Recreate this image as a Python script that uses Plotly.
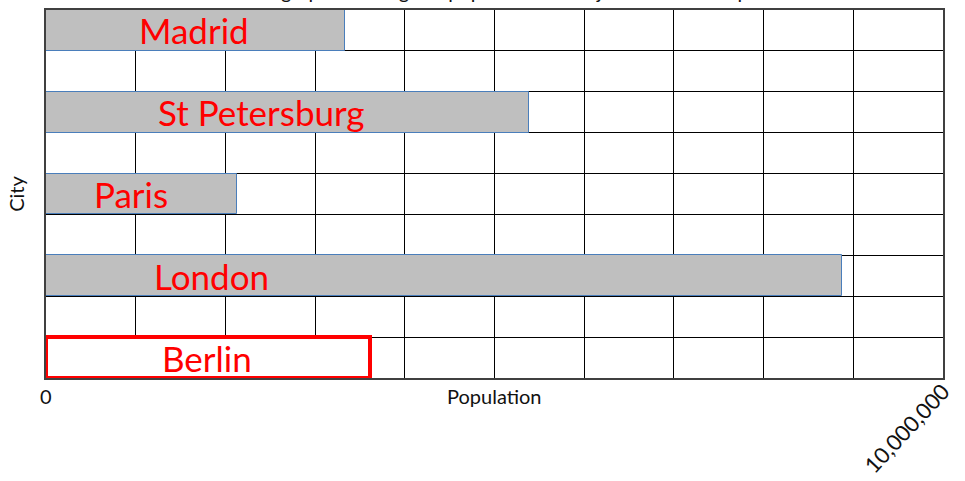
import plotly.graph_objects as go

cities = ["Madrid", "St Petersburg", "Paris", "London", "Berlin"]
population = [3330000, 5380000, 2130000, 8870000, 3610000]
label_x = [1650000, 2400000, 950000, 1850000, 1800000]
tick_values = [0, 10000000]
tick_labels = ["0", "10,000,000"]
title_text = "A bar graph showing the population of major cities in Europe"

n = len(cities)
rows = [2 * (n - 1 - i) for i in range(n)]
fills = ["#bfbfbf"] * (n - 1) + ["white"]
lines = ["#4a7ebb"] * (n - 1) + ["#ff0000"]
widths = [1] * (n - 1) + [4]
FONT = "Lato"

fig = go.Figure()
fig.add_trace(go.Bar(
    x=population, y=rows, orientation="h", width=1,
    marker=dict(color=fills, line=dict(color=lines, width=widths)),
    hoverinfo="skip", showlegend=False,
))

for c, lx, r in zip(cities, label_x, rows):
    fig.add_annotation(x=lx, y=r, text=c, showarrow=False,
                       font=dict(family=FONT, size=35, color="#ff0000"),
                       xanchor="center", yanchor="middle")

fig.add_annotation(xref="paper", yref="paper", x=0.5, y=-0.012, text="Population",
                   showarrow=False, yanchor="top",
                   font=dict(family=FONT, size=20, color="#111"))
fig.add_annotation(x=tick_values[0], xref="x", yref="paper", y=-0.012, text=tick_labels[0],
                   showarrow=False, yanchor="top", xanchor="center",
                   font=dict(family=FONT, size=20, color="#111"))
fig.add_annotation(xref="paper", yref="paper", x=-0.018, y=0.5, text="City",
                   textangle=-90, showarrow=False, xanchor="right",
                   font=dict(family=FONT, size=20, color="#111"))
fig.add_annotation(xref="paper", yref="paper", x=0.5, y=1.0135, text=title_text,
                   showarrow=False, yanchor="bottom",
                   font=dict(family=FONT, size=20, color="#111"))

grid_x = [i * 1000000 for i in range(11)]
fig.update_xaxes(
    range=[0, 10000000], tickvals=grid_x,
    ticktext=[tick_labels[1] if v == tick_values[1] else "" for v in grid_x],
    tickangle=-47, showgrid=True, gridcolor="black", gridwidth=1,
    zeroline=False, showline=True, linecolor="#404040", linewidth=2, mirror=True,
    ticks="", tickfont=dict(family=FONT, size=22, color="#111"), automargin=False,
    ticklabelstandoff=-10,
)
fig.update_yaxes(
    range=[-0.5, 2 * (n - 1) + 0.5], tickvals=[i - 0.5 for i in range(2 * n)],
    showticklabels=False, showgrid=True, gridcolor="black", gridwidth=1,
    zeroline=False, showline=True, linecolor="#404040", linewidth=2, mirror=True, ticks="",
    automargin=False,
)
fig.update_layout(
    width=965, height=481, margin=dict(l=46, r=22, t=10, b=103),
    plot_bgcolor="white", paper_bgcolor="white", bargap=0,
)
fig.write_html("out.html", config={"displayModeBar": False},
               post_script="document.body.style.margin='0';")
